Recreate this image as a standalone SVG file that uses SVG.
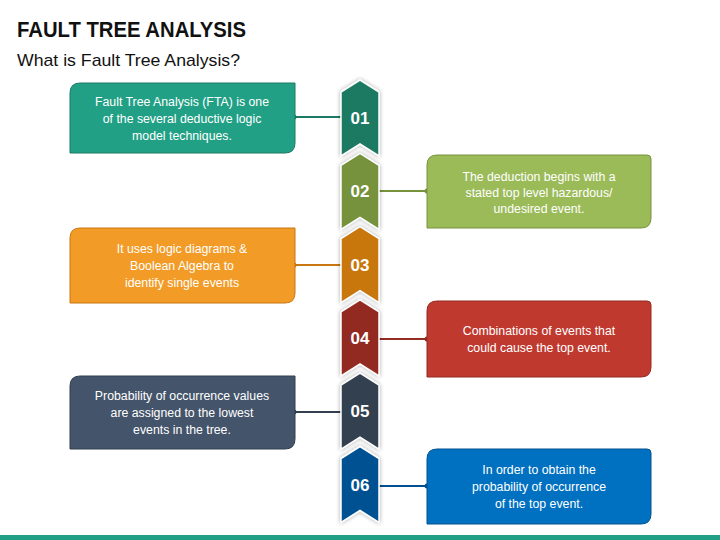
<svg xmlns="http://www.w3.org/2000/svg" width="720" height="540" viewBox="0 0 720 540">
<style>
.title{font-family:"Liberation Sans",Arial,sans-serif;font-weight:bold;font-size:22px;fill:#111}
.sub{font-family:"Liberation Sans",Arial,sans-serif;font-size:17px;fill:#111}
.bt{font-family:"Liberation Sans",Arial,sans-serif;font-size:12.3px;fill:#fff;text-anchor:middle}
.num{font-family:"Liberation Sans",Arial,sans-serif;font-weight:bold;font-size:17px;fill:#fff;text-anchor:middle}
.chev{stroke:#fff;stroke-width:1.5;filter:url(#sh)}
</style>
<defs>
<filter id="sh" x="-50%" y="-30%" width="200%" height="160%">
<feDropShadow dx="0" dy="0" stdDeviation="2" flood-color="#000" flood-opacity="0.35"/>
</filter>
<path id="chv" d="M0,0 L19,12 L19,76 L0,64 L-19,76 L-19,12 Z"/>
</defs>
<rect width="720" height="540" fill="#fff"/>
<text class="title" x="17" y="37" textLength="229" lengthAdjust="spacingAndGlyphs">FAULT TREE ANALYSIS</text>
<text class="sub" x="17" y="66" textLength="223" lengthAdjust="spacingAndGlyphs">What is Fault Tree Analysis?</text>

<g id="connectors">
<line x1="294" y1="117" x2="341" y2="117" stroke="#1b7a63" stroke-width="2"/>
<circle cx="294" cy="117" r="2.5" fill="#1b7a63"/>
<line x1="379" y1="191" x2="427" y2="191" stroke="#76923c" stroke-width="2"/>
<circle cx="427" cy="191" r="2.5" fill="#76923c"/>
<line x1="294" y1="265" x2="341" y2="265" stroke="#c87711" stroke-width="2"/>
<circle cx="294" cy="265" r="2.5" fill="#c87711"/>
<line x1="379" y1="339" x2="427" y2="339" stroke="#922b21" stroke-width="2"/>
<circle cx="427" cy="339" r="2.5" fill="#922b21"/>
<line x1="294" y1="412" x2="341" y2="412" stroke="#323f4f" stroke-width="2"/>
<circle cx="294" cy="412" r="2.5" fill="#323f4f"/>
<line x1="379" y1="486" x2="427" y2="486" stroke="#005192" stroke-width="2"/>
<circle cx="427" cy="486" r="2.5" fill="#005192"/>
</g>

<g id="step01">
<use href="#chv" x="360" y="80" class="chev" fill="#1b7a63"/>
<text class="num" x="360" y="124">01</text>
</g>
<g id="step02">
<use href="#chv" x="360" y="153.3" class="chev" fill="#76923c"/>
<text class="num" x="360" y="197.3">02</text>
</g>
<g id="step03">
<use href="#chv" x="360" y="226.6" class="chev" fill="#c87711"/>
<text class="num" x="360" y="270.6">03</text>
</g>
<g id="step04">
<use href="#chv" x="360" y="299.9" class="chev" fill="#922b21"/>
<text class="num" x="360" y="343.9">04</text>
</g>
<g id="step05">
<use href="#chv" x="360" y="373.2" class="chev" fill="#323f4f"/>
<text class="num" x="360" y="417.2">05</text>
</g>
<g id="step06">
<use href="#chv" x="360" y="446.5" class="chev" fill="#005192"/>
<text class="num" x="360" y="490.5">06</text>
</g>

<g id="box1">
<path d="M80,83 H295 V143 Q295,153 285,153 H70 V93 Q70,83 80,83 Z" fill="#22a085" stroke="#1b7a63" stroke-width="1"/>
<text class="bt" x="182" y="106">Fault Tree Analysis (FTA) is one</text>
<text class="bt" x="182" y="123">of the several deductive logic</text>
<text class="bt" x="182" y="140">model techniques.</text>
</g>
<g id="box2">
<path d="M437,155 H647 Q651,155 651,159 V218 Q651,228 641,228 H427 V165 Q427,155 437,155 Z" fill="#9bbb59" stroke="#76923c" stroke-width="1"/>
<text class="bt" x="539" y="181">The deduction begins with a</text>
<text class="bt" x="539" y="197">stated top level hazardous/</text>
<text class="bt" x="539" y="213">undesired event.</text>
</g>
<g id="box3">
<path d="M80,228 H295 V293 Q295,303 285,303 H70 V238 Q70,228 80,228 Z" fill="#f29b26" stroke="#c87711" stroke-width="1"/>
<text class="bt" x="182" y="253">It uses logic diagrams &amp;</text>
<text class="bt" x="182" y="270">Boolean Algebra to</text>
<text class="bt" x="182" y="287">identify single events</text>
</g>
<g id="box4">
<path d="M437,301 H647 Q651,301 651,305 V367 Q651,377 641,377 H427 V311 Q427,301 437,301 Z" fill="#c0392f" stroke="#922b21" stroke-width="1"/>
<text class="bt" x="539" y="335">Combinations of events that</text>
<text class="bt" x="539" y="352">could cause the top event.</text>
</g>
<g id="box5">
<path d="M80,376 H295 V439 Q295,449 285,449 H70 V386 Q70,376 80,376 Z" fill="#44546a" stroke="#323f4f" stroke-width="1"/>
<text class="bt" x="182" y="400">Probability of occurrence values</text>
<text class="bt" x="182" y="417">are assigned to the lowest</text>
<text class="bt" x="182" y="434">events in the tree.</text>
</g>
<g id="box6">
<path d="M437,449 H647 Q651,449 651,453 V514 Q651,524 641,524 H427 V459 Q427,449 437,449 Z" fill="#0070c0" stroke="#005192" stroke-width="1"/>
<text class="bt" x="539" y="474">In order to obtain the</text>
<text class="bt" x="539" y="491">probability of occurrence</text>
<text class="bt" x="539" y="508">of the top event.</text>
</g>

<rect x="0" y="535" width="720" height="5" fill="#22a085"/>
</svg>
